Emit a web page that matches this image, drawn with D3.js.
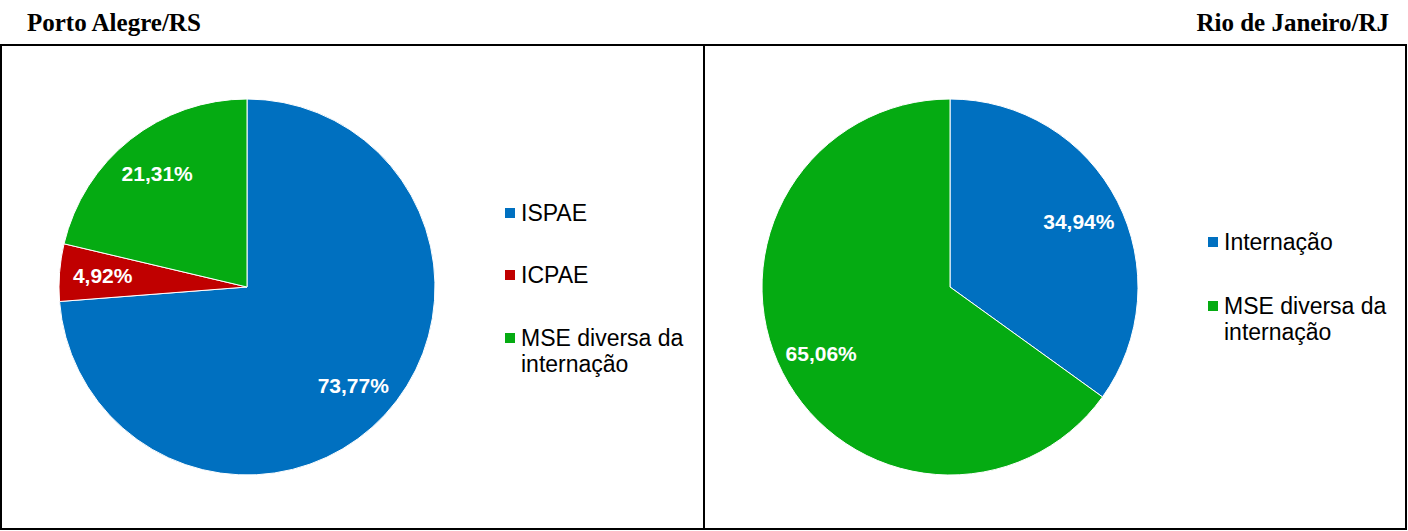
<!DOCTYPE html>
<html>
<head>
<meta charset="utf-8">
<script src="https://cdn.jsdelivr.net/npm/d3@7/dist/d3.min.js"></script>
<style>
  html, body { margin: 0; padding: 0; background: #fff; }
  svg { display: block; }
</style>
</head>
<body>
<svg id="chart" width="1408" height="531"></svg>
<script>
// ---- data ----
const titles = ["Porto Alegre/RS", "Rio de Janeiro/RJ"];
const poaCategories = ["ISPAE", "ICPAE", "MSE diversa da internação"];
const poaValues = [73.77, 4.92, 21.31];
const rioCategories = ["Internação", "MSE diversa da internação"];
const rioValues = [34.94, 65.06];
const poaColors = ["#0070C0", "#C00000", "#05AB12"];
const rioColors = ["#0070C0", "#05AB12"];

const svg = d3.select("#chart");

// frames
svg.append("rect").attr("x", 1).attr("y", 45).attr("width", 703).attr("height", 484)
  .attr("fill", "none").attr("stroke", "#000").attr("stroke-width", 2);
svg.append("rect").attr("x", 704).attr("y", 45).attr("width", 702).attr("height", 484)
  .attr("fill", "none").attr("stroke", "#000").attr("stroke-width", 2);

// titles
svg.append("text").attr("x", 27).attr("y", 31).text(titles[0])
  .attr("font-family", "Liberation Serif, Times New Roman, serif")
  .attr("font-weight", "bold").attr("font-size", 25).attr("fill", "#000");
svg.append("text").attr("x", 1389).attr("y", 31).attr("text-anchor", "end").text(titles[1])
  .attr("font-family", "Liberation Serif, Times New Roman, serif")
  .attr("font-weight", "bold").attr("font-size", 25).attr("fill", "#000");

const fmt = v => d3.format(".2f")(v).replace(".", ",") + "%";

function drawPie(cx, cy, r, cats, vals, colors, legend) {
  const pie = d3.pie().sort(null).value(d => d.v);
  const data = pie(cats.map((c, i) => ({ c, v: vals[i], col: colors[i] })));
  const arc = d3.arc().innerRadius(0).outerRadius(r);
  const labelArc = d3.arc().innerRadius(r * 0.77).outerRadius(r * 0.77);
  const g = svg.append("g").attr("transform", `translate(${cx},${cy})`);
  g.selectAll("path").data(data).join("path")
    .attr("d", arc).attr("fill", d => d.data.col)
    .attr("stroke", "#fff").attr("stroke-width", 1);
  g.selectAll("text").data(data).join("text")
    .attr("transform", d => `translate(${labelArc.centroid(d)})`)
    .attr("text-anchor", "middle").attr("dy", "0.36em")
    .attr("font-family", "Liberation Sans, Arial, sans-serif")
    .attr("font-weight", "bold").attr("font-size", 21).attr("fill", "#fff")
    .text(d => fmt(d.data.v));

  // legend
  const lg = svg.append("g");
  legend.ys.forEach((y, i) => {
    lg.append("rect").attr("x", legend.x).attr("y", y - 5).attr("width", 10).attr("height", 10)
      .attr("fill", colors[i]);
    const t = lg.append("text").attr("x", legend.x + 16).attr("y", y).attr("dy", "0.36em")
      .attr("font-family", "Liberation Sans, Arial, sans-serif")
      .attr("font-size", 23).attr("fill", "#000");
    const name = cats[i];
    if (name === "MSE diversa da internação") {
      t.append("tspan").attr("x", legend.x + 16).text("MSE diversa da");
      t.append("tspan").attr("x", legend.x + 16).attr("dy", 26).text("internação");
    } else {
      t.text(name);
    }
  });
}

drawPie(247, 287, 188, poaCategories, poaValues, poaColors, { x: 505, ys: [213, 275, 338] });
drawPie(950, 287, 188, rioCategories, rioValues, rioColors, { x: 1208, ys: [242, 306] });
</script>
</body>
</html>
